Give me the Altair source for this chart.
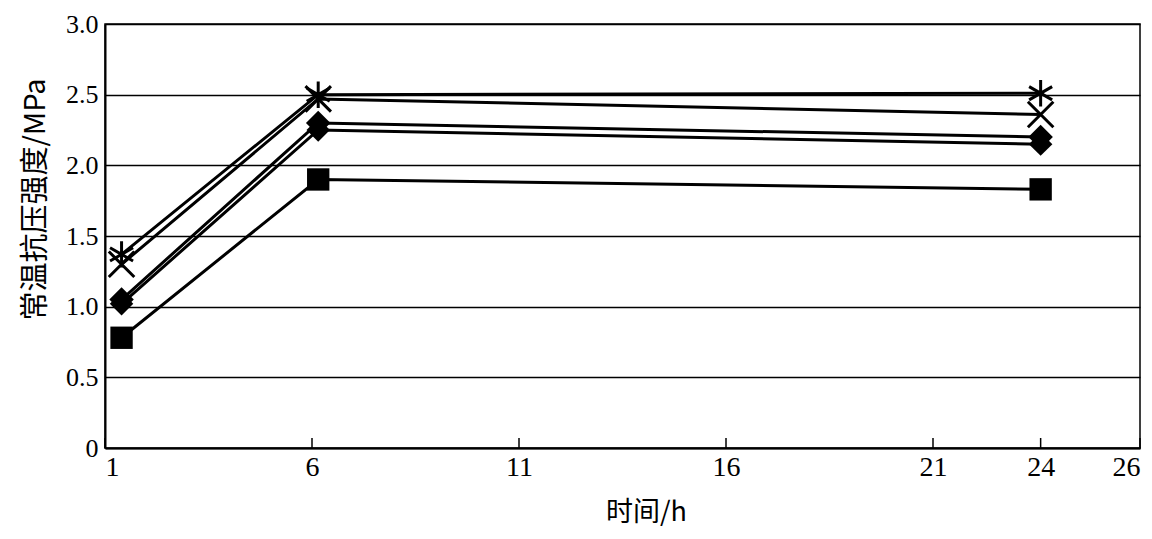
import altair as alt
import pandas as pd

# Data (x positions as drawn; last point labelled 24 h)
time_h = [1.4, 6.15, 23.6]
series_names = ["S1", "S2", "S3", "S4", "S5"]
s1_square = [0.78, 1.90, 1.83]
s2_diamond = [1.02, 2.25, 2.15]
s3_diamond = [1.05, 2.30, 2.20]
s4_cross = [1.30, 2.47, 2.36]
s5_star = [1.37, 2.50, 2.51]

x_tick_values = [1, 6, 11, 16, 21, 23.6, 26]
x_tick_labels = ["1", "6", "11", "16", "21", "24", "26"]
y_tick_values = [0, 0.5, 1.0, 1.5, 2.0, 2.5, 3.0]

all_series = [s1_square, s2_diamond, s3_diamond, s4_cross, s5_star]
filled_flags = [True, True, True, False, False]

rows = []
for name, vals, filled in zip(series_names, all_series, filled_flags):
    for t, v in zip(time_h, vals):
        rows.append({"series": name, "t": t, "v": v, "filled": filled})
df = pd.DataFrame(rows)

ticks_df = pd.DataFrame({"t": x_tick_values})

W, H = 1035, 424
FONT = "Liberation Serif"
CJK = "Noto Sans CJK SC"

label_map = "{" + ",".join(f"'{v}':'{l}'" for v, l in zip(x_tick_values, x_tick_labels)) + "}"

x_enc = alt.X(
    "t:Q",
    scale=alt.Scale(domain=[1, 26], nice=False, zero=False),
    axis=alt.Axis(
        values=x_tick_values,
        labelExpr=f"{label_map}[toString(datum.value)]",
        grid=False,
        ticks=False,
        labelFont=FONT,
        labelFontSize=28,
        labelColor="black",
        labelPadding=5,
        domainColor="black",
        domainWidth=2,
        title="时间/h",
        titleFont=CJK,
        titleFontSize=27,
        titleFontWeight="normal",
        titleColor="black",
        titleX=541,
        titleY=64,
        titleBaseline="middle",
    ),
)
y_enc = alt.Y(
    "v:Q",
    scale=alt.Scale(domain=[0, 3], nice=False),
    axis=alt.Axis(
        values=y_tick_values,
        labelExpr="datum.value == 0 ? '0' : format(datum.value, '.1f')",
        grid=True,
        gridColor="black",
        gridWidth=1.5,
        gridOpacity=1,
        ticks=False,
        labelFont=FONT,
        labelFontSize=26,
        labelColor="black",
        labelPadding=7,
        domainColor="black",
        domainWidth=2,
        title="常温抗压强度/MPa",
        titleFont=CJK,
        titleFontSize=29,
        titleFontWeight="normal",
        titleColor="black",
        titleAngle=-90,
        titleX=-70,
        titleY=175,
        titleBaseline="middle",
    ),
)

x_path = "M-1,-1L1,1M-1,1L1,-1"
star_path = "M0,-1L0,1M-0.87,-0.5L0.87,0.5M-0.87,0.5L0.87,-0.5"
shape_scale = alt.Scale(domain=series_names,
                        range=["square", "diamond", "diamond", x_path, star_path])
size_scale = alt.Scale(domain=series_names, range=[500, 700, 700, 560, 700])

base = alt.Chart(df)

lines = base.mark_line(color="black", strokeWidth=3).encode(
    x=x_enc, y=y_enc, detail="series:N"
)

filled_pts = base.transform_filter("datum.filled").mark_point(
    filled=True, color="black", opacity=1
).encode(
    x="t:Q", y="v:Q",
    shape=alt.Shape("series:N", scale=shape_scale, legend=None),
    size=alt.Size("series:N", scale=size_scale, legend=None),
)

stroked_pts = base.transform_filter("!datum.filled").mark_point(
    filled=False, color="black", strokeWidth=3, opacity=1
).encode(
    x="t:Q", y="v:Q",
    shape=alt.Shape("series:N", scale=shape_scale, legend=None),
    size=alt.Size("series:N", scale=size_scale, legend=None),
)

inner_ticks = alt.Chart(ticks_df).mark_rule(color="black", strokeWidth=1.5).encode(
    x="t:Q", y=alt.value(H), y2=alt.value(H - 10)
)

chart = alt.layer(lines, inner_ticks, filled_pts, stroked_pts).properties(
    width=W,
    height=H,
    autosize=alt.AutoSizeParams(type="none"),
    padding={"left": 97, "top": 16, "right": 4, "bottom": 83},
    background="white",
).configure_view(
    stroke="black", strokeWidth=1.5
)

chart.save("out.html", embed_options={"renderer": "svg", "actions": False})
